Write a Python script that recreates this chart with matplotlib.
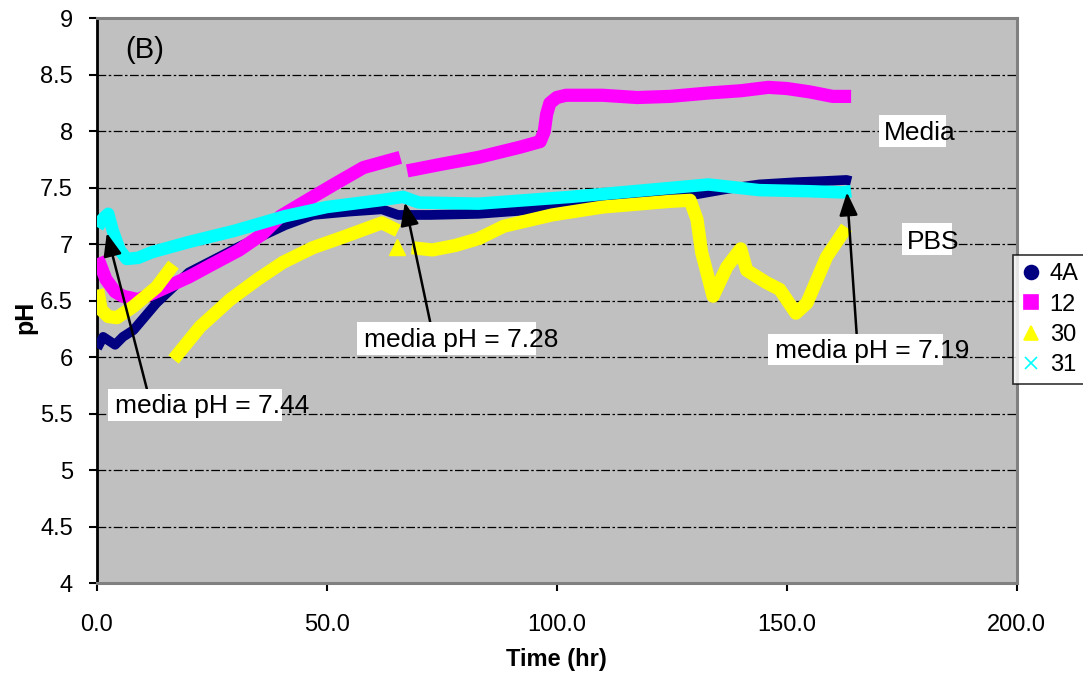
import matplotlib
matplotlib.use("Agg")
import numpy as np
import matplotlib.pyplot as plt
from matplotlib.lines import Line2D
from matplotlib.patches import Rectangle

plt.rcParams["font.family"] = ["Liberation Sans", "DejaVu Sans"]

# ---- data: pH of the media over time (NaN separates recording segments) ----
t_4a = [0.1, 1.4, 4.0, 5.7, 8.0, 13.0, 20.0, 31.0, 41.0, 47.0, 55.0, 62.0, 65.5,
        72.5, 83.0, 93.0, 103.0, 113.0, 123.0, 130.0, 137.0, 144.0, 152.0,
        158.0, 163.0, 164.0]
ph_4a = [6.08, 6.18, 6.11, 6.18, 6.24, 6.48, 6.75, 6.98, 7.17, 7.26, 7.29, 7.31,
         7.26, 7.26, 7.27, 7.30, 7.33, 7.38, 7.42, 7.44, 7.49, 7.53, 7.55,
         7.56, 7.57, 7.56]

t_12 = [0.2, 2.0, 4.0, 5.7, 9.0, 13.0, 20.0, 25.0, 31.0, 36.0, 40.0, 47.0, 52.0,
        58.0, 66.0, np.nan,
        67.5, 75.0, 83.0, 92.0, 96.4, 97.3, 97.8, 98.5, 100.0, 102.0, 110.0,
        117.5, 124.6, 133.0, 140.0, 146.0, 150.0, 155.0, 160.0, 164.0]
ph_12 = [6.88, 6.69, 6.58, 6.54, 6.51, 6.58, 6.71, 6.82, 6.95, 7.09, 7.25, 7.42,
         7.54, 7.68, 7.77, np.nan,
         7.65, 7.71, 7.77, 7.86, 7.91, 8.00, 8.15, 8.25, 8.30, 8.32, 8.32,
         8.30, 8.31, 8.34, 8.36, 8.39, 8.38, 8.35, 8.31, 8.31]

t_30 = [0.2, 1.0, 2.5, 4.4, 8.0, 13.0, 16.7, np.nan,
        16.7, 22.5, 29.0, 35.0, 40.5, 47.0, 54.0, 62.0, 65.5, np.nan,
        65.3, np.nan,
        68.5, 73.0, 78.0, 83.0, 88.5, 99.0, 110.0, 124.6, 129.0, 130.5, 131.5,
        134.0, 137.0, 140.0, 141.3, 145.6, 148.5, 152.0, 154.4, 158.7, 163.0]
ph_30 = [6.60, 6.42, 6.36, 6.35, 6.45, 6.62, 6.82, np.nan,
         5.98, 6.27, 6.51, 6.69, 6.84, 6.97, 7.07, 7.19, 7.12, np.nan,
         6.98, np.nan,
         6.97, 6.95, 6.99, 7.05, 7.16, 7.26, 7.33, 7.38, 7.39, 7.22, 6.93,
         6.54, 6.80, 6.96, 6.77, 6.66, 6.60, 6.39, 6.48, 6.89, 7.15]

t_31 = [0.2, 1.2, 2.5, 3.5, 5.0, 6.5, 9.0, 12.0, 20.0, 30.0, 41.0, 50.0, 61.6,
        66.6, 70.0, 83.0, 103.0, 125.0, 133.0, 144.0, 155.0, 162.0, 164.0]
ph_31 = [7.15, 7.22, 7.27, 7.12, 6.95, 6.87, 6.88, 6.93, 7.02, 7.12, 7.25, 7.33,
         7.39, 7.42, 7.37, 7.36, 7.42, 7.50, 7.53, 7.48, 7.47, 7.46, 7.47]

series_names = ["4A", "12", "30", "31"]
series_t = [t_4a, t_12, t_30, t_31]
series_ph = [ph_4a, ph_12, ph_30, ph_31]
colors = ["#000080", "#FF00FF", "#FFFF00", "#00FFFF"]
markers = ["o", "s", "^", "x"]
widths = [7.0, 9.5, 9.5, 9.0]

x_ticks = [0, 50, 100, 150, 200]
y_ticks = [4, 4.5, 5, 5.5, 6, 6.5, 7, 7.5, 8, 8.5, 9]

# ---- figure in pixel units ----
W, H = 1083, 679
fig = plt.figure(figsize=(W / 100, H / 100), dpi=100)


def fx(x):
    return x / W


def fy(y):
    return 1 - y / H


ax = fig.add_axes([fx(96.7), fy(583), 920 / W, 564.5 / H])
ax.set_facecolor("#C0C0C0")
ax.set_xlim(0, 200)
ax.set_ylim(4, 9)

for t, ph, c, m, lw in zip(series_t, series_ph, colors, markers, widths):
    t = np.asarray(t, float)
    ph = np.asarray(ph, float)
    ax.plot(t, ph, color=c, lw=lw, solid_joinstyle="round",
            solid_capstyle="butt", zorder=3)
    # isolated readings (single points between gaps) are drawn as markers
    ok = ~np.isnan(ph)
    prev = np.r_[False, ok[:-1]]
    nxt = np.r_[ok[1:], False]
    lone = ok & ~prev & ~nxt
    if lone.any():
        ax.plot(t[lone], ph[lone], linestyle="none", marker=m, color=c,
                markersize=11, zorder=3)

ax.set_xticks(x_ticks)
ax.set_xticklabels([f"{v:.1f}" for v in x_ticks])
ax.set_yticks(y_ticks)
ax.set_yticklabels([f"{v:g}" for v in y_ticks])
ax.tick_params(axis="both", direction="out", length=6, width=1.5,
               colors="black", labelsize=17)
ax.tick_params(axis="y", pad=11)
ax.tick_params(axis="x", pad=16)

ax.yaxis.grid(True, color="black", linestyle=(0, (7, 2, 2, 2)), linewidth=0.9)
ax.set_axisbelow(True)

ax.spines["left"].set_color("black")
ax.spines["left"].set_linewidth(2)
for s in ("top", "right", "bottom"):
    ax.spines[s].set_color("#808080")
    ax.spines[s].set_linewidth(2.2)

ax.set_xlabel("Time (hr)", fontsize=17, fontweight="bold")
ax.xaxis.set_label_coords(0.5, -0.116)
ax.set_ylabel("pH", fontsize=18, fontweight="bold")
ax.yaxis.set_label_coords(-0.064, 0.47)

# ---- arrows pointing at the media pH readings ----
arrows = [((2.2, 7.10), (10.9, 5.72)),
          ((67.0, 7.37), (72.5, 6.31)),
          ((163.1, 7.46), (165.2, 6.21))]
for tip, tail in arrows:
    ax.annotate("", xy=tip, xytext=tail,
                arrowprops=dict(arrowstyle="-|>,head_length=0.7,head_width=0.28",
                                color="black", lw=1.8, mutation_scale=20,
                                shrinkA=0, shrinkB=0), zorder=4)

# ---- text labels on white boxes ----
labels = [
    ("media pH = 7.44", (108, 389, 282, 421), 115, 406),
    ("media pH = 7.28", (357, 322, 536, 355), 364, 340),
    ("media pH = 7.19", (768, 334, 943, 365), 775, 351),
    ("Media", (879, 115, 946, 147), 884, 133),
    ("PBS", (902, 223, 952, 255), 907, 242),
]
for txt, (x0, y0, x1, y1), tx, ty in labels:
    fig.add_artist(Rectangle((fx(x0), fy(y1)), (x1 - x0) / W, (y1 - y0) / H,
                             transform=fig.transFigure, facecolor="white",
                             edgecolor="none", zorder=5))
    fig.text(fx(tx), fy(ty), txt, fontsize=19, ha="left", va="center",
             zorder=6)

fig.text(fx(125), fy(50), "(B)", fontsize=21, ha="left", va="center", zorder=6)

# ---- legend ----
handles = [Line2D([], [], linestyle="none", marker=m, color=c,
                  markersize=10 if m != "x" else 9, markeredgewidth=1.2)
           for m, c in zip(markers, colors)]
leg = fig.legend(handles, series_names, loc="upper left",
                 bbox_to_anchor=(fx(1013), fy(255)), fontsize=17,
                 frameon=True, fancybox=False, edgecolor="black",
                 handlelength=0.8, handletextpad=0.4, labelspacing=0.35,
                 borderpad=0.35, borderaxespad=0)
leg.get_frame().set_linewidth(1.2)

fig.savefig("out.png", dpi=100)
